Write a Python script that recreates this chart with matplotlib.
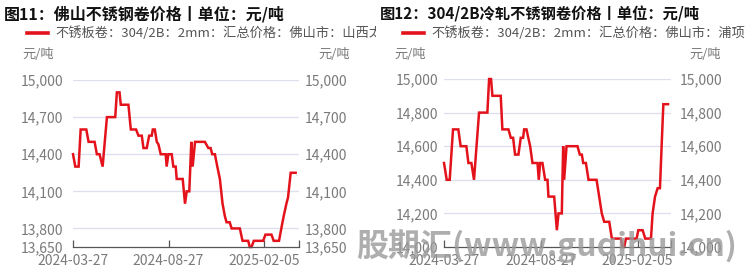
import matplotlib
matplotlib.use('Agg')
import matplotlib.pyplot as plt

plt.rcParams['font.family'] = ['Noto Sans CJK SC', 'DejaVu Sans']

# x = observation index (100 per tick interval), y = price
left_x = [0, 2.4, 5.9, 8, 13.9, 16.3, 22.6, 25, 27.8, 31, 35.5, 44.2, 45.9, 48.7, 50, 58,
          60.5, 66, 68.5, 72, 73.7, 77.2, 79.7, 82.4, 83.5, 85.6, 87.7, 89.4, 91.8, 97,
          98, 99.8, 103.3, 105, 107.5, 108.5, 114.8, 117.2, 119, 121.7, 123.8, 125.2,
          127.7, 138, 141.6, 144, 145.7, 148.5, 151, 153.7, 156.5, 158.9, 160.7, 164,
          166, 174.6, 177.4, 183.3, 185, 186.8, 189.2, 199, 201.4, 207.7, 210, 215.6,
          218, 220.5, 223.3, 225, 227.8, 233]
left_y = [14400, 14300, 14300, 14600, 14600, 14500, 14500, 14400, 14400, 14300, 14700,
          14700, 14900, 14900, 14800, 14800, 14600, 14600, 14550, 14550, 14450, 14450,
          14550, 14550, 14600, 14600, 14500, 14480, 14400, 14400, 14300, 14400, 14400,
          14300, 14300, 14200, 14200, 14000, 14100, 14100, 14500, 14300, 14500, 14500,
          14450, 14450, 14400, 14400, 14300, 14200, 14000, 13900, 13850, 13850, 13800,
          13800, 13700, 13700, 13650, 13650, 13700, 13700, 13750, 13750, 13700, 13700,
          13800, 13900, 14000, 14050, 14250, 14250]

right_x = [0, 2.8, 5.9, 9.3, 14.8, 17.2, 23.1, 25.2, 28.3, 31, 36.2, 44.8, 46.6, 48.6,
           50, 58.6, 60.3, 66.6, 69, 71.4, 73.4, 76.9, 79.3, 81.7, 82.8, 85.2, 89, 91.4,
           96.6, 97.9, 99.3, 101.7, 104.5, 106.9, 107.9, 113.8, 116.6, 118.3, 121.7,
           123.1, 124.1, 126.6, 137.9, 140.3, 142.4, 143.8, 146.6, 149.3, 157.6, 160.3,
           163, 165.5, 170.7, 173.4, 182.8, 184.5, 186.2, 187.9, 199, 200.7, 205.2,
           207.9, 213.8, 215.5, 218, 220.7, 223.1, 224.8, 226.6, 231.4]
right_y = [14500, 14400, 14400, 14700, 14700, 14600, 14600, 14500, 14500, 14400, 14800,
           14800, 15000, 15000, 14900, 14900, 14700, 14700, 14650, 14650, 14550, 14550,
           14650, 14650, 14700, 14700, 14600, 14500, 14500, 14400, 14500, 14500, 14400,
           14400, 14300, 14300, 14100, 14200, 14200, 14600, 14400, 14600, 14600, 14550,
           14550, 14500, 14500, 14400, 14400, 14300, 14200, 14150, 14150, 14050, 14050,
           14000, 14000, 14050, 14050, 14100, 14100, 14050, 14050, 14200, 14300, 14350,
           14350, 14600, 14850, 14850]

tick_pos = [0, 100, 200]
tick_labels = ['2024-03-27', '2024-08-27', '2025-02-05']

left_yticks = [13650, 13800, 14100, 14400, 14700, 15000]
right_yticks = [14000, 14200, 14400, 14600, 14800, 15000]

titles = ['图11：佛山不锈钢卷价格丨单位：元/吨', '图12：304/2B冷轧不锈钢卷价格丨单位：元/吨']
legends = ['不锈板卷：304/2B：2mm：汇总价格：佛山市：山西太钢',
           '不锈板卷：304/2B：2mm：汇总价格：佛山市：浦项']

W, H = 753, 280
fig = plt.figure(figsize=(W / 100, H / 100), dpi=100)

red = '#e3121b'
gray = '#7a7a7a'


def fx(px):
    return px / W


def fy(py):
    return 1 - py / H


panels = [
    dict(x0=0, x1=376, ax=(73, 80, 299, 247), xs=left_x, ys=left_y, yt=left_yticks,
         xend=236.5, lpad=7, rpad=4.5, tsize=11.5),
    dict(x0=376, x1=753, ax=(444, 79, 671, 247), xs=right_x, ys=right_y, yt=right_yticks,
         xend=234.5, lpad=4, rpad=6.5, tsize=11),
]

for i, p in enumerate(panels):
    # background axes for the header text (clipped at panel edge)
    bg = fig.add_axes([fx(p['x0']), 0, fx(p['x1'] - p['x0']), 1])
    bg.set_xlim(p['x0'], p['x1'])
    bg.set_ylim(H, 0)
    bg.axis('off')
    bg.text(p['x0'] + 4, 14, titles[i], fontsize=p['tsize'], fontweight='bold',
            va='center', ha='left', color='#111111', clip_on=True)
    bg.plot([p['x0'] + 27, p['x0'] + 48], [33, 33], color=red, lw=2.6, clip_on=True)
    bg.text(p['x0'] + 55, 33, legends[i], fontsize=9.5, va='center', ha='left',
            color='#555555', clip_on=True)

    l, t, r, b = p['ax']
    ax = fig.add_axes([fx(l), fy(b), fx(r - l), fy(t) - fy(b)])
    ax.plot(p['xs'], p['ys'], color=red, lw=1.8, solid_joinstyle='miter', clip_on=False)
    ax.set_xlim(0, p['xend'])
    ax.set_ylim(p['yt'][0], p['yt'][-1])
    ax.set_yticks(p['yt'])
    ax.set_yticklabels(['{:,}'.format(v) for v in p['yt']])
    ax.set_xticks(tick_pos + [p['xend']])
    ax.set_xticklabels(tick_labels + [''])
    for v in p['yt'][1:]:
        ax.axhline(v, color='#dcdfee', lw=0.9, zorder=0)
    for s in ['top', 'left', 'right']:
        ax.spines[s].set_visible(False)
    ax.spines['bottom'].set_color('#555555')
    ax.spines['bottom'].set_linewidth(0.9)
    ax.tick_params(axis='x', direction='in', length=5, width=0.9, color='#555555',
                   labelsize=10, labelcolor=gray, pad=5)
    ax.tick_params(axis='y', length=0, labelsize=10, labelcolor=gray, pad=p['lpad'])

    ax2 = ax.twinx()
    ax2.set_ylim(p['yt'][0], p['yt'][-1])
    ax2.set_yticks(p['yt'])
    ax2.set_yticklabels(['{:,}'.format(v) for v in p['yt']])
    for s in ax2.spines.values():
        s.set_visible(False)
    ax2.tick_params(axis='y', length=0, labelsize=10, labelcolor=gray, pad=p['rpad'])

    # unit labels
    bg.text(p['x0'] + 22 if i == 0 else p['x0'] + 18, 55, '元/吨', fontsize=9.5,
            color=gray, va='center', ha='left')
    bg.text(318 if i == 0 else 689, 55, '元/吨', fontsize=9.5, color=gray,
            va='center', ha='left')

# watermark
fig.text(fx(356), fy(246), '股期汇(www.guqihui.cn)', fontsize=23, fontweight='bold',
         fontstyle='italic', color='#9a9a9a', alpha=0.8, va='center', ha='left')

fig.savefig('out.png', dpi=100)
